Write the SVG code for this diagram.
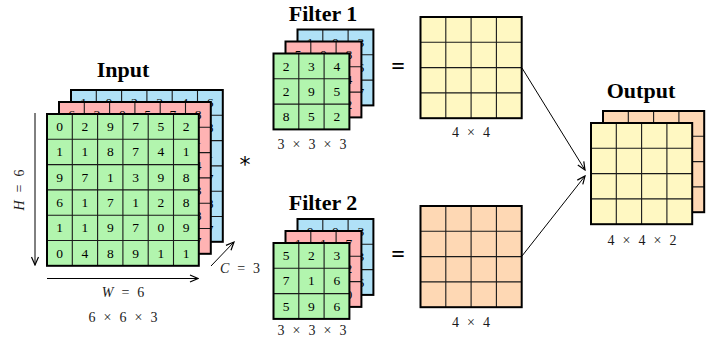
<svg xmlns="http://www.w3.org/2000/svg" width="721" height="347" viewBox="0 0 721 347">
<defs>
<style>
.bg{fill:#ffffff}
.gr{fill:#b2f5ae}
.rd{fill:#ffb3b3}
.bl{fill:#b0e1f7}
.ye{fill:#fff8c2}
.or{fill:#fed8b4}
.frame{fill:none;stroke:#000;stroke-width:2}
.grid{fill:none;stroke:#1a1a1a;stroke-width:1.1}
.num{font-family:"Liberation Serif","DejaVu Serif",serif;font-size:13.5px;fill:#000;text-anchor:middle}
.title{font-family:"Liberation Serif","DejaVu Serif",serif;font-size:22px;font-weight:bold;fill:#000;text-anchor:middle}
.lbl{font-family:"Liberation Serif","DejaVu Serif",serif;font-size:14px;fill:#1a1a1a;text-anchor:middle;word-spacing:4.5px}
.op{font-family:"Liberation Serif","DejaVu Serif",serif;font-size:24px;font-weight:bold;fill:#000;text-anchor:middle}
.star{font-family:"DejaVu Sans",sans-serif;font-size:22px;fill:#000;text-anchor:middle}
.conn{fill:none;stroke:#000;stroke-width:1}
</style>
<marker id="arr" viewBox="0 0 10 10" refX="9" refY="5" markerWidth="10" markerHeight="10" markerUnits="userSpaceOnUse" orient="auto">
<path d="M1,1.5 L9,5 L1,8.5" fill="none" stroke="#000" stroke-width="1.2"/>
</marker>
<path id="g6" d="M25.3,0V151.8M50.6,0V151.8M75.9,0V151.8M101.2,0V151.8M126.5,0V151.8M0,25.3H151.8M0,50.6H151.8M0,75.9H151.8M0,101.2H151.8M0,126.5H151.8"/>
<path id="g3" d="M25.3,0V75.9M50.6,0V75.9M0,25.3H75.9M0,50.6H75.9"/>
<path id="g4" d="M25.3,0V101.2M50.6,0V101.2M75.9,0V101.2M0,25.3H101.2M0,50.6H101.2M0,75.9H101.2"/>
</defs>
<rect class="bg" x="0" y="0" width="721" height="347"/>

<g id="input">
<text class="title" x="123" y="77">Input</text>
<g transform="translate(71,90)">
<rect class="bl" width="151.8" height="151.8"/>
<use href="#g6" class="grid"/>
<g class="num">
<text x="12.65" y="17">1</text><text x="37.95" y="17">0</text><text x="63.25" y="17">2</text><text x="88.55" y="17">3</text><text x="113.85" y="17">4</text><text x="139.15" y="17">6</text>
<text x="139.15" y="42.3">8</text><text x="139.15" y="67.6">1</text><text x="139.15" y="92.9">7</text><text x="139.15" y="118.2">8</text><text x="139.15" y="143.5">7</text>
</g>
<rect class="frame" width="151.8" height="151.8"/>
</g>
<g transform="translate(59,102)">
<rect class="rd" width="151.8" height="151.8"/>
<use href="#g6" class="grid"/>
<g class="num">
<text x="12.65" y="17">6</text><text x="37.95" y="17">3</text><text x="63.25" y="17">0</text><text x="88.55" y="17">5</text><text x="113.85" y="17">7</text><text x="139.15" y="17">8</text>
<text x="139.15" y="42.3">1</text><text x="139.15" y="67.6">4</text><text x="139.15" y="92.9">3</text><text x="139.15" y="118.2">8</text><text x="139.15" y="143.5">7</text>
</g>
<rect class="frame" width="151.8" height="151.8"/>
</g>
<g transform="translate(47,114)">
<rect class="gr" width="151.8" height="151.8"/>
<use href="#g6" class="grid"/>
<g class="num">
<text x="12.65" y="17">0</text><text x="37.95" y="17">2</text><text x="63.25" y="17">9</text><text x="88.55" y="17">7</text><text x="113.85" y="17">5</text><text x="139.15" y="17">2</text>
<text x="12.65" y="42.3">1</text><text x="37.95" y="42.3">1</text><text x="63.25" y="42.3">8</text><text x="88.55" y="42.3">7</text><text x="113.85" y="42.3">4</text><text x="139.15" y="42.3">1</text>
<text x="12.65" y="67.6">9</text><text x="37.95" y="67.6">7</text><text x="63.25" y="67.6">1</text><text x="88.55" y="67.6">3</text><text x="113.85" y="67.6">9</text><text x="139.15" y="67.6">8</text>
<text x="12.65" y="92.9">6</text><text x="37.95" y="92.9">1</text><text x="63.25" y="92.9">7</text><text x="88.55" y="92.9">1</text><text x="113.85" y="92.9">2</text><text x="139.15" y="92.9">8</text>
<text x="12.65" y="118.2">1</text><text x="37.95" y="118.2">1</text><text x="63.25" y="118.2">9</text><text x="88.55" y="118.2">7</text><text x="113.85" y="118.2">0</text><text x="139.15" y="118.2">9</text>
<text x="12.65" y="143.5">0</text><text x="37.95" y="143.5">4</text><text x="63.25" y="143.5">8</text><text x="88.55" y="143.5">9</text><text x="113.85" y="143.5">1</text><text x="139.15" y="143.5">1</text>
</g>
<rect class="frame" width="151.8" height="151.8"/>
</g>
<text class="lbl" transform="translate(24,190) rotate(-90)"><tspan font-style="italic">H</tspan> = 6</text>
<text class="lbl" x="123" y="297"><tspan font-style="italic">W</tspan> = 6</text>
<text class="lbl" x="123" y="322">6 × 6 × 3</text>
<text class="lbl" x="240" y="273"><tspan font-style="italic">C</tspan> = 3</text>
</g>

<g id="op-conv">
<text class="star" x="245" y="172">*</text>
</g>

<g id="filter1">
<text class="title" x="323" y="21">Filter 1</text>
<g transform="translate(297.5,29.5)">
<rect class="bl" width="75.9" height="75.9"/>
<use href="#g3" class="grid"/>
<g class="num"><text x="12.65" y="17">1</text><text x="37.95" y="17">0</text><text x="63.25" y="17">3</text><text x="63.25" y="42.3">6</text><text x="63.25" y="67.6">7</text></g>
<rect class="frame" width="75.9" height="75.9"/>
</g>
<g transform="translate(285.5,41.5)">
<rect class="rd" width="75.9" height="75.9"/>
<use href="#g3" class="grid"/>
<g class="num"><text x="12.65" y="17">5</text><text x="37.95" y="17">0</text><text x="63.25" y="17">8</text><text x="63.25" y="42.3">4</text><text x="63.25" y="67.6">2</text></g>
<rect class="frame" width="75.9" height="75.9"/>
</g>
<g transform="translate(273.5,53.5)">
<rect class="gr" width="75.9" height="75.9"/>
<use href="#g3" class="grid"/>
<g class="num">
<text x="12.65" y="17">2</text><text x="37.95" y="17">3</text><text x="63.25" y="17">4</text>
<text x="12.65" y="42.3">2</text><text x="37.95" y="42.3">9</text><text x="63.25" y="42.3">5</text>
<text x="12.65" y="67.6">8</text><text x="37.95" y="67.6">5</text><text x="63.25" y="67.6">2</text>
</g>
<rect class="frame" width="75.9" height="75.9"/>
</g>
<text class="lbl" x="312" y="149">3 × 3 × 3</text>
</g>

<g id="filter2">
<text class="title" x="323" y="210">Filter 2</text>
<g transform="translate(297.5,219)">
<rect class="bl" width="75.9" height="75.9"/>
<use href="#g3" class="grid"/>
<g class="num"><text x="12.65" y="17">0</text><text x="37.95" y="17">0</text><text x="63.25" y="17">3</text><text x="63.25" y="42.3">3</text><text x="63.25" y="67.6">6</text></g>
<rect class="frame" width="75.9" height="75.9"/>
</g>
<g transform="translate(285.5,231)">
<rect class="rd" width="75.9" height="75.9"/>
<use href="#g3" class="grid"/>
<g class="num"><text x="12.65" y="17">1</text><text x="37.95" y="17">1</text><text x="63.25" y="17">7</text><text x="63.25" y="42.3">2</text><text x="63.25" y="67.6">0</text></g>
<rect class="frame" width="75.9" height="75.9"/>
</g>
<g transform="translate(273.5,243)">
<rect class="gr" width="75.9" height="75.9"/>
<use href="#g3" class="grid"/>
<g class="num">
<text x="12.65" y="17">5</text><text x="37.95" y="17">2</text><text x="63.25" y="17">3</text>
<text x="12.65" y="42.3">7</text><text x="37.95" y="42.3">1</text><text x="63.25" y="42.3">6</text>
<text x="12.65" y="67.6">5</text><text x="37.95" y="67.6">9</text><text x="63.25" y="67.6">6</text>
</g>
<rect class="frame" width="75.9" height="75.9"/>
</g>
<text class="lbl" x="312" y="335">3 × 3 × 3</text>
</g>

<g id="eq1"><text class="op" x="398" y="74">=</text></g>
<g id="eq2"><text class="op" x="398" y="262">=</text></g>

<g id="map1">
<g transform="translate(420.5,17)">
<rect class="ye" width="101.2" height="101.2"/>
<use href="#g4" class="grid"/>
<rect class="frame" width="101.2" height="101.2"/>
</g>
<text class="lbl" x="471" y="137">4 × 4</text>
</g>

<g id="map2">
<g transform="translate(420.5,206)">
<rect class="or" width="101.2" height="101.2"/>
<use href="#g4" class="grid"/>
<rect class="frame" width="101.2" height="101.2"/>
</g>
<text class="lbl" x="471" y="327">4 × 4</text>
</g>

<g id="output">
<text class="title" x="641" y="98">Output</text>
<g transform="translate(603,111)">
<rect class="or" width="101.2" height="101.2"/>
<use href="#g4" class="grid"/>
<rect class="frame" width="101.2" height="101.2"/>
</g>
<g transform="translate(591,123)">
<rect class="ye" width="101.2" height="101.2"/>
<use href="#g4" class="grid"/>
<rect class="frame" width="101.2" height="101.2"/>
</g>
<text class="lbl" x="642" y="245">4 × 4 × 2</text>
</g>

<g id="connectors">
<line class="conn" x1="35" y1="113" x2="35" y2="265" marker-end="url(#arr)"/>
<line class="conn" x1="47" y1="278.5" x2="198" y2="278.5" marker-end="url(#arr)"/>
<line class="conn" x1="211" y1="266" x2="234" y2="242" marker-end="url(#arr)"/>
<line class="conn" x1="522" y1="68" x2="585" y2="170" marker-end="url(#arr)"/>
<line class="conn" x1="522" y1="256" x2="585" y2="176" marker-end="url(#arr)"/>
</g>
</svg>
